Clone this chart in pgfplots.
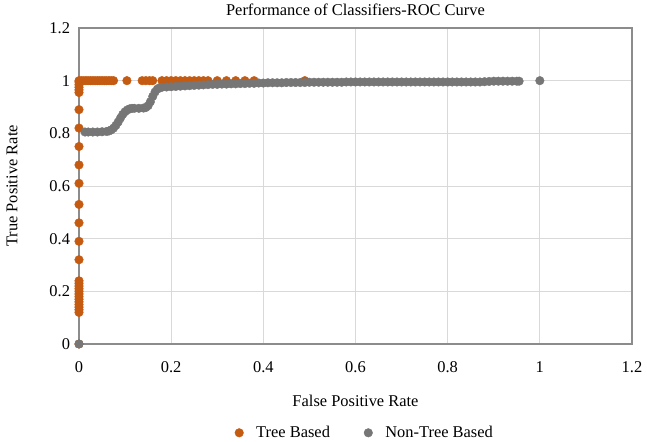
\documentclass[border=0pt]{standalone}
\usepackage{pgfplots}
\pgfplotsset{compat=1.18}
\usepackage{fontspec}
\setmainfont{Liberation Serif}
\definecolor{treeC}{HTML}{C55A11}
\definecolor{nontreeC}{HTML}{767676}
\definecolor{frameC}{HTML}{8C8C8C}
\definecolor{gridC}{HTML}{D9D9D9}
\begin{document}
\begin{tikzpicture}
\useasboundingbox (-79bp,-98bp) rectangle (568bp,344bp);
\begin{axis}[
  at={(0,0)}, anchor=south west,
  scale only axis, width=553bp, height=316bp,
  xmin=0, xmax=1.2, ymin=0, ymax=1.2,
  xtick={0,0.2,0.4,0.6,0.8,1,1.2},
  ytick={0,0.2,0.4,0.6,0.8,1,1.2},
  xticklabels={0,0.2,0.4,0.6,0.8,1,1.2},
  yticklabels={0,0.2,0.4,0.6,0.8,1,1.2},
  major tick length=0pt,
  grid=major,
  major grid style={draw=gridC, line width=0.8bp},
  axis line style={draw=frameC, line width=1.5bp},
  clip=false,
  font=\fontsize{16.5}{19.8}\selectfont,
  /pgf/number format/assume math mode=true,
  xticklabel style={anchor=base, yshift=-28bp},
  yticklabel style={anchor=east, xshift=-5.5bp},
  title={Performance of Classifiers-ROC Curve},
  title style={at={(axis description cs:0.5,1)}, anchor=base, yshift=7bp},
  xlabel={False Positive Rate},
  xlabel style={at={(axis description cs:0.5,0)}, anchor=base, yshift=-62bp},
  ylabel={True Positive Rate},
  ylabel style={at={(axis description cs:-0.1212,0.5)}, anchor=center},
  legend columns=2,
  legend style={draw=none, fill=none, at={(axis description cs:0.517,-0.281)}, anchor=center,
    /tikz/every even column/.append style={column sep=32bp}},
  legend image code/.code={\path[draw=none, fill=none] (0bp,0bp) -- (15bp,0bp); \draw[#1] plot coordinates {(0bp,0bp)};},
]
\addplot[only marks, mark=*, mark size=4.3bp, mark options={draw=treeC, fill=treeC}] table {
x y
0 0
0 0.12
0 0.13
0 0.14
0 0.15
0 0.16
0 0.17
0 0.18
0 0.19
0 0.20
0 0.21
0 0.22
0 0.23
0 0.24
0 0.32
0 0.39
0 0.46
0 0.53
0 0.61
0 0.68
0 0.75
0 0.82
0 0.89
0 0.955
0 0.965
0 0.975
0 0.985
0 0.995
0 1.0
0.005 1
0.01 1
0.015 1
0.02 1
0.025 1
0.03 1
0.035 1
0.04 1
0.045 1
0.05 1
0.055 1
0.06 1
0.065 1
0.07 1
0.075 1
0.104 1
0.137 1
0.145 1
0.153 1
0.16 1
0.18 1
0.19 1
0.20 1
0.21 1
0.22 1
0.23 1
0.24 1
0.25 1
0.26 1
0.27 1
0.28 1
0.30 1
0.32 1
0.34 1
0.36 1
0.38 1
0.49 1
};
\addlegendentry{Tree Based}
\addplot[only marks, mark=*, mark size=4.3bp, mark options={draw=nontreeC, fill=nontreeC}] table {
x y
0 0
0.013 0.805
0.02 0.805
0.03 0.805
0.04 0.805
0.05 0.806
0.06 0.807
0.065 0.809
0.07 0.813
0.075 0.82
0.08 0.83
0.085 0.843
0.09 0.858
0.095 0.872
0.1 0.882
0.105 0.889
0.11 0.893
0.115 0.895
0.12 0.895
0.13 0.895
0.14 0.896
0.145 0.898
0.15 0.905
0.155 0.92
0.16 0.94
0.165 0.957
0.17 0.968
0.175 0.973
0.18 0.975
0.19 0.976
0.20 0.977
0.21 0.978
0.22 0.979
0.23 0.980
0.24 0.981
0.25 0.982
0.26 0.983
0.27 0.984
0.28 0.985
0.29 0.986
0.30 0.986
0.31 0.987
0.32 0.987
0.33 0.988
0.34 0.988
0.35 0.989
0.36 0.989
0.37 0.990
0.38 0.990
0.39 0.991
0.40 0.991
0.41 0.992
0.42 0.992
0.43 0.992
0.44 0.992
0.45 0.993
0.46 0.993
0.47 0.993
0.48 0.993
0.49 0.993
0.50 0.994
0.51 0.994
0.52 0.994
0.53 0.994
0.54 0.994
0.55 0.994
0.56 0.994
0.57 0.994
0.58 0.995
0.59 0.995
0.60 0.995
0.61 0.995
0.62 0.995
0.63 0.995
0.64 0.995
0.65 0.995
0.66 0.995
0.67 0.995
0.68 0.995
0.69 0.995
0.70 0.995
0.71 0.995
0.72 0.995
0.73 0.995
0.74 0.995
0.75 0.995
0.76 0.995
0.77 0.995
0.78 0.995
0.79 0.995
0.80 0.995
0.81 0.995
0.82 0.995
0.83 0.995
0.84 0.995
0.85 0.995
0.86 0.995
0.87 0.995
0.88 0.996
0.89 0.997
0.90 0.998
0.91 0.998
0.92 0.998
0.93 0.998
0.94 0.998
0.95 0.998
0.955 0.998
1.0 1.0
};
\addlegendentry{Non-Tree Based}
\end{axis}
\end{tikzpicture}
\end{document}
